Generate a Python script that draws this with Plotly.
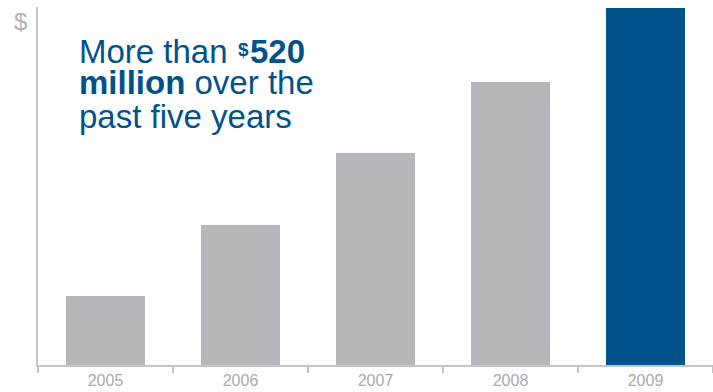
import plotly.graph_objects as go

years = ["2005", "2006", "2007", "2008", "2009"]
values = [33.8, 68.6, 103.9, 138.7, 175.0]
colors = ["#b6b7bb", "#b6b7bb", "#b6b7bb", "#b6b7bb", "#00528a"]

fig = go.Figure(go.Bar(x=years, y=values, marker=dict(color=colors, line=dict(width=0)), width=0.585))

blue = "#00528a"
font_fam = "Liberation Sans, Arial, sans-serif"


def px(x):
    return (x - 38) / 675


def py(y):
    return 1 - (y - 7) / 358


def note(text, x, y, size, xanchor="left", color=blue):
    fig.add_annotation(text=text, xref="paper", yref="paper", x=px(x), y=py(y),
                       xanchor=xanchor, yanchor="bottom", showarrow=False, borderpad=0,
                       font=dict(family=font_fam, size=size, color=color), align="left")


note("More than", 78, 71, 33)
note("<b>$</b>", 243.5, 61, 19, xanchor="center")
note("<b>520</b>", 249, 71, 33)
note("<b>million</b> over the", 78, 102, 33)
note("past five years", 78, 136, 33)
note("$", 20, 36, 24, xanchor="center", color="#b3b3b3")

fig.update_layout(
    width=713, height=392,
    margin=dict(l=38, r=0, t=7, b=27),
    plot_bgcolor="white", paper_bgcolor="white",
    showlegend=False,
    xaxis=dict(showline=True, linecolor="#c4c4c4", linewidth=2, ticks="outside", tickson="boundaries",
               ticklen=6, tickcolor="#c4c4c4", tickwidth=1.5,
               tickfont=dict(family=font_fam, size=16, color="#aaaaaa"), showgrid=False),
    yaxis=dict(showline=True, linecolor="#c4c4c4", linewidth=2, showticklabels=False, ticks="",
               showgrid=False, zeroline=False, range=[0, 175.5]),
)
fig.write_html("out.html", config={"displayModeBar": False},
               post_script="document.body.style.margin='0';document.body.style.overflow='hidden';")
